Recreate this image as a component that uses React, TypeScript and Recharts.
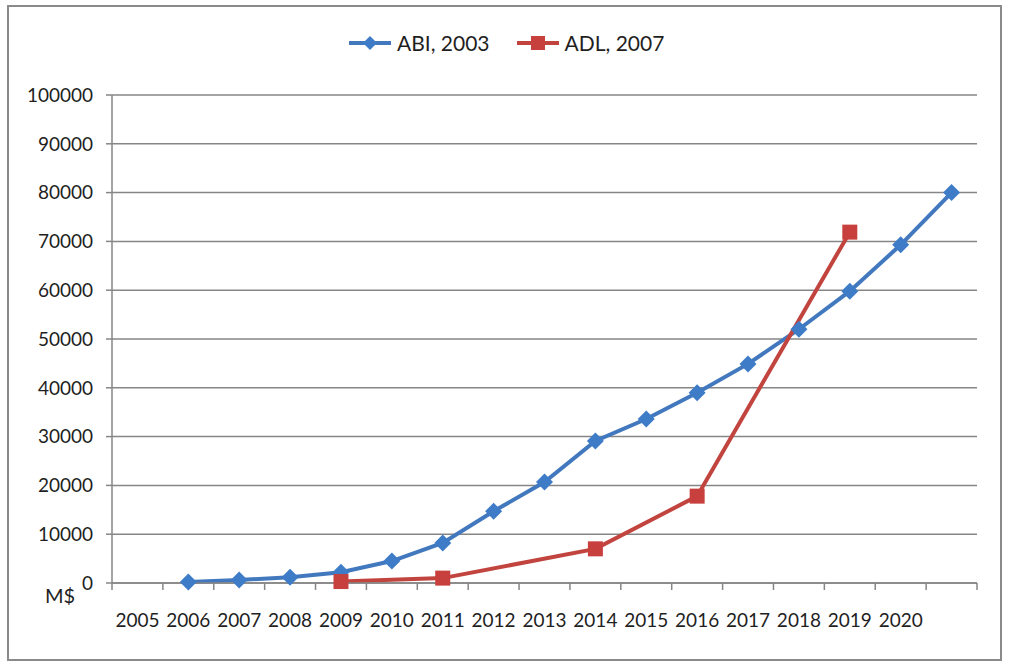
import React from 'react';
import { LineChart, Line, XAxis, YAxis, CartesianGrid } from 'recharts';

// categories along the bottom axis (last slot has no label in the original)
const years = ['2005', '2006', '2007', '2008', '2009', '2010', '2011', '2012', '2013', '2014', '2015', '2016', '2017', '2018', '2019', '2020', ''];
const abiValues = [null, 200, 600, 1200, 2200, 4500, 8200, 14700, 20700, 29100, 33600, 39000, 44900, 52000, 59800, 69300, 80000];
const adlValues = [null, null, null, null, 300, null, 1000, null, null, 7000, null, 17800, null, null, 71900, null, null];
const yTicks = [0, 10000, 20000, 30000, 40000, 50000, 60000, 70000, 80000, 90000, 100000];
const seriesNames = ['ABI, 2003', 'ADL, 2007'];

const data = years.map((year, i) => ({ year, abi: abiValues[i], adl: adlValues[i] }));

const W = 1014;
const H = 668;
const PLOT_LEFT = 112;
const PLOT_RIGHT = 977;
const BAND = (PLOT_RIGHT - PLOT_LEFT) / years.length;
const FONT = 'Lato, "Open Sans", sans-serif';
const TEXT = '#1f1f1f';
const GRID = '#868686';
const BLUE = '#4279BE';
const RED = '#C2443F';

const Diamond = (props: any) => {
    const { cx, cy } = props;
    if (cx == null || cy == null || props.value == null) return null;
    const s = 8.5;
    return <path d={`M${cx},${cy - s}L${cx + s},${cy}L${cx},${cy + s}L${cx - s},${cy}Z`} fill="#3F7CC8" />;
};

const Square = (props: any) => {
    const { cx, cy } = props;
    if (cx == null || cy == null || props.value == null) return null;
    const s = 7.5;
    return <rect x={cx - s} y={cy - s} width={s * 2} height={s * 2} fill="#C8403E" />;
};

// Excel style: tick marks sit between categories, labels in the middle
const XTick = (props: any) => {
    const { x, y, payload, index } = props;
    const half = BAND / 2;
    return (
        <g>
            <line x1={x - half} x2={x - half} y1={y} y2={y + 7} stroke={GRID} strokeWidth={1.5} />
            {index === years.length - 1 && <line x1={x + half} x2={x + half} y1={y} y2={y + 7} stroke={GRID} strokeWidth={1.5} />}
            <text x={x} y={y + 44} textAnchor="middle" fill={TEXT} fontSize={19} fontFamily={FONT}>{payload.value}</text>
        </g>
    );
};

const LegendItem: React.FC<{ color: string; square?: boolean; label: string }> = ({ color, square, label }) => (
    <div style={{ display: 'flex', alignItems: 'center', marginRight: 26 }}>
        <svg width={44} height={20}>
            <line x1={1} x2={43} y1={10} y2={10} stroke={color} strokeWidth={4} />
            {square
                ? <rect x={15} y={3} width={14} height={14} fill="#C8403E" />
                : <path d="M22,3L29,10L22,17L15,10Z" fill="#3F7CC8" />}
        </svg>
        <span style={{ marginLeft: 5 }}>{label}</span>
    </div>
);

export default function App() {
    return (
        <div style={{ position: 'fixed', left: 0, top: 0, width: W, height: H, background: '#fff', fontFamily: FONT }}>
            <div style={{ position: 'absolute', left: 7, top: 5, width: 991, height: 652, border: '2px solid #8a8a8a' }} />
            <div style={{ position: 'absolute', top: 30, left: 348, display: 'flex', fontSize: 21, color: TEXT }}>
                <LegendItem color={BLUE} label={seriesNames[0]} />
                <LegendItem color={RED} square label={seriesNames[1]} />
            </div>
            <div style={{ position: 'absolute', left: 0, top: 0 }}>
                <LineChart width={W} height={H} data={data} margin={{ top: 95, right: W - PLOT_RIGHT, left: 0, bottom: 55 }}>
                    <CartesianGrid vertical={false} stroke={GRID} strokeWidth={1.5} />
                    <XAxis
                        dataKey="year"
                        height={30}
                        interval={0}
                        padding={{ left: BAND / 2, right: BAND / 2 }}
                        tickLine={false}
                        tickSize={0}
                        tickMargin={0}
                        tick={<XTick />}
                        axisLine={{ stroke: GRID, strokeWidth: 1.5 }}
                    />
                    <YAxis
                        width={PLOT_LEFT}
                        domain={[0, 100000]}
                        ticks={yTicks}
                        interval={0}
                        tickSize={6}
                        tickMargin={13}
                        tickLine={{ stroke: GRID, strokeWidth: 1.5 }}
                        axisLine={{ stroke: GRID, strokeWidth: 1.5 }}
                        tick={{ fill: TEXT, fontSize: 19, fontFamily: FONT }}
                    />
                    <Line dataKey="abi" name={seriesNames[0]} stroke={BLUE} strokeWidth={4} dot={<Diamond />} isAnimationActive={false} connectNulls />
                    <Line dataKey="adl" name={seriesNames[1]} stroke={RED} strokeWidth={4} dot={<Square />} isAnimationActive={false} connectNulls />
                </LineChart>
            </div>
            <div style={{ position: 'absolute', left: 45, top: 583, fontSize: 20, color: TEXT }}>M$</div>
        </div>
    );
}
